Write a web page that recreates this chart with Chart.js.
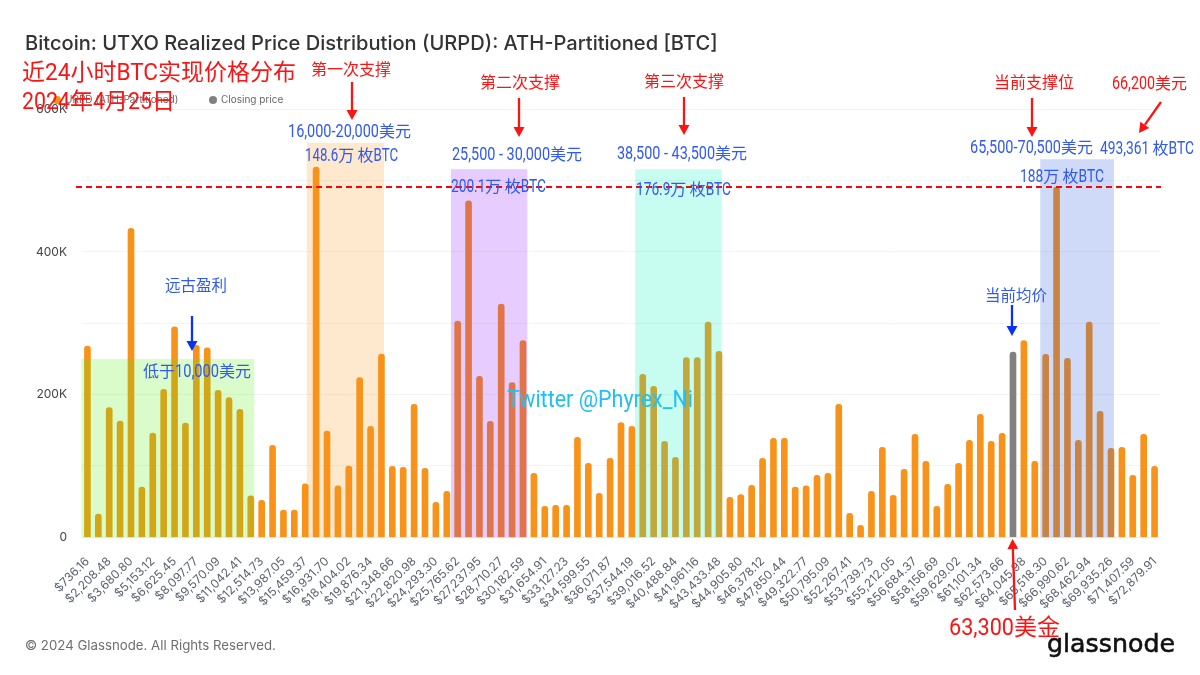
<!DOCTYPE html>
<html>
<head>
<meta charset="utf-8">
<script src="https://cdn.jsdelivr.net/npm/chart.js@4"></script>
<style>
    html, body { margin: 0; padding: 0; background: #fff; }
    canvas { display: block; }
</style>
</head>
<body>
<canvas id="urpdChart" width="1200" height="675"></canvas>
<script>
const tickLabels = [
    '$736.16', '$2,208.48', '$3,680.80', '$5,153.12', '$6,625.45', '$8,097.77', '$9,570.09', '$11,042.41', '$12,514.73', '$13,987.05',
    '$15,459.37', '$16,931.70', '$18,404.02', '$19,876.34', '$21,348.66', '$22,820.98', '$24,293.30', '$25,765.62', '$27,237.95', '$28,710.27',
    '$30,182.59', '$31,654.91', '$33,127.23', '$34,599.55', '$36,071.87', '$37,544.19', '$39,016.52', '$40,488.84', '$41,961.16', '$43,433.48',
    '$44,905.80', '$46,378.12', '$47,850.44', '$49,322.77', '$50,795.09', '$52,267.41', '$53,739.73', '$55,212.05', '$56,684.37', '$58,156.69',
    '$59,629.02', '$61,101.34', '$62,573.66', '$64,045.98', '$65,518.30', '$66,990.62', '$68,462.94', '$69,935.26', '$71,407.59', '$72,879.91'
];

const urpdValues = [
    268000, 32700, 182000, 163000, 433000, 70500, 146000, 207500, 295000, 160000,
    269000, 265500, 206000, 196000, 179500, 58000, 52000, 129000, 38000, 38000,
    75000, 519000, 149000, 72000, 100000, 224000, 155500, 257000, 99500, 98000,
    186500, 96700, 49000, 64500, 303000, 471600, 225800, 162700, 327000, 217000,
    275700, 89800, 43400, 44800, 44800, 140000, 103700, 61700, 110800, 161000,
    155700, 228500, 211700, 134600, 112000, 252000, 252000, 301600, 260800, 56000,
    60000, 73000, 110800, 138800, 138800, 70500, 72000, 87000, 89800, 186500,
    33600, 16800, 64500, 126200, 58900, 95400, 144400, 106600, 43400, 74300,
    103700, 136000, 172500, 134600, 145800, 259500, 275700, 106600, 256600, 491000,
    251000, 136000, 301600, 176700, 124800, 126200, 87000, 144400, 99500
];

const closingIndex = 85;
const supportLevel = 491000;

const ORANGE = '#f7931a';
const GREY = '#808080';
const RED = '#fb1414';
const BLUE = '#3059f2';

// shaded zones, in bar index / value units
const zones = [
    { from: -0.56, to: 15.32, top: 250000, color: 'rgba(82, 241, 14, 0.22)' },
    { from: 20.14, to: 27.23, top: 553000, color: 'rgba(250, 150, 30, 0.22)' },
    { from: 33.39, to: 40.4, top: 516000, color: 'rgba(135, 5, 255, 0.2)' },
    { from: 50.3, to: 58.25, top: 516000, color: 'rgba(0, 246, 187, 0.22)' },
    { from: 87.5, to: 94.27, top: 530000, color: 'rgba(37, 82, 223, 0.22)' }
];

const notes = [
    { text: '近24小时BTC实现价格分布', left: 22, right: 296, y: 71, size: 23, color: RED },
    { text: '2024年4月25日', left: 22, right: 175, y: 100, size: 23, color: RED },
    { text: '第一次支撑', left: 311, right: 390, y: 69, size: 16, color: RED },
    { text: '第二次支撑', left: 480, right: 559, y: 82, size: 16, color: RED },
    { text: '第三次支撑', left: 644, right: 723, y: 81, size: 16, color: RED },
    { text: '当前支撑位', left: 994, right: 1072, y: 82, size: 16, color: RED },
    { text: '66,200美元', left: 1112, right: 1187, y: 83, size: 16, color: RED },
    { text: '16,000-20,000美元', left: 288, right: 411, y: 131, size: 16, color: BLUE },
    { text: '148.6万 枚BTC', left: 305, right: 398, y: 155, size: 16, color: BLUE },
    { text: '25,500 - 30,000美元', left: 452, right: 582, y: 154, size: 16, color: BLUE },
    { text: '200.1万 枚BTC', left: 451, right: 546, y: 186, size: 16, color: BLUE },
    { text: '38,500 - 43,500美元', left: 617, right: 747, y: 153, size: 16, color: BLUE },
    { text: '176.9万 枚BTC', left: 636, right: 731, y: 189, size: 16, color: BLUE },
    { text: '65,500-70,500美元', left: 970, right: 1093, y: 147, size: 16, color: BLUE },
    { text: '493,361 枚BTC', left: 1100, right: 1194, y: 148, size: 16, color: BLUE },
    { text: '188万 枚BTC', left: 1020, right: 1104, y: 176, size: 16, color: BLUE },
    { text: '远古盈利', left: 165, right: 227, y: 285, size: 15.5, color: BLUE },
    { text: '低于10,000美元', left: 143, right: 251, y: 371, size: 16, color: BLUE },
    { text: '当前均价', left: 985, right: 1048, y: 295, size: 15.5, color: BLUE },
    { text: 'Twitter @Phyrex_Ni', left: 507, right: 693, y: 398, size: 23, color: '#1fc0f5' },
    { text: '63,300美金', left: 949, right: 1060, y: 626, size: 23, color: RED }
];

const arrows = [
    { x1: 352, y1: 82, x2: 352, y2: 120, color: RED },
    { x1: 519, y1: 98, x2: 519, y2: 137, color: RED },
    { x1: 684, y1: 97, x2: 684, y2: 135, color: RED },
    { x1: 1032, y1: 98, x2: 1032, y2: 137, color: RED },
    { x1: 1161, y1: 102, x2: 1139, y2: 133, color: RED },
    { x1: 1015, y1: 610, x2: 1012.5, y2: 539, color: RED },
    { x1: 192, y1: 316, x2: 192, y2: 351, color: '#0a32f5' },
    { x1: 1012, y1: 305, x2: 1012, y2: 336, color: '#0a32f5' }
];

function drawArrow(ctx, a) {
    const angle = Math.atan2(a.y2 - a.y1, a.x2 - a.x1);
    const headLen = 10;
    const headHalf = 5.5;
    const bx = a.x2 - headLen * Math.cos(angle);
    const by = a.y2 - headLen * Math.sin(angle);
    ctx.strokeStyle = a.color;
    ctx.fillStyle = a.color;
    ctx.lineWidth = 2.3;
    ctx.beginPath();
    ctx.moveTo(a.x1, a.y1);
    ctx.lineTo(bx, by);
    ctx.stroke();
    ctx.beginPath();
    ctx.moveTo(a.x2, a.y2);
    ctx.lineTo(bx - headHalf * Math.sin(angle), by + headHalf * Math.cos(angle));
    ctx.lineTo(bx + headHalf * Math.sin(angle), by - headHalf * Math.cos(angle));
    ctx.closePath();
    ctx.fill();
}

// the pasted notes use a narrow latin face, so latin runs get squeezed to fill the width
function drawNote(ctx, n) {
    const latinFont = (n.size + 1.5) + 'px Roboto';
    const cjkFont = n.size + 'px "Noto Sans CJK SC"';
    const baseline = n.y + n.size * 0.4;
    const runs = n.text.match(/[\u4e00-\u9fff]+|[^\u4e00-\u9fff]+/g).map(text => {
        const isCjk = /[\u4e00-\u9fff]/.test(text);
        ctx.font = isCjk ? cjkFont : latinFont;
        return { text, isCjk, width: ctx.measureText(text).width };
    });
    const cjkWidth = runs.filter(r => r.isCjk).reduce((sum, r) => sum + r.width, 0);
    const latinWidth = runs.filter(r => !r.isCjk).reduce((sum, r) => sum + r.width, 0);
    const squeeze = latinWidth ? (n.right - n.left - cjkWidth) / latinWidth : 1;
    let x = n.left;
    ctx.fillStyle = n.color;
    runs.forEach(r => {
        ctx.font = r.isCjk ? cjkFont : latinFont;
        const w = r.isCjk ? r.width : r.width * squeeze;
        ctx.fillText(r.text, x, baseline, w);
        x += w;
    });
}

function drawLegend(ctx) {
    const items = [
        { text: 'URPD (ATH-Partitioned)', x: 57, color: ORANGE },
        { text: 'Closing price', x: 213, color: GREY }
    ];
    ctx.font = '10px Inter';
    ctx.textAlign = 'left';
    ctx.textBaseline = 'middle';
    items.forEach(item => {
        ctx.fillStyle = item.color;
        ctx.beginPath();
        ctx.arc(item.x, 100, 4, 0, Math.PI * 2);
        ctx.fill();
        ctx.fillStyle = '#666';
        ctx.fillText(item.text, item.x + 8, 100);
    });
}

const overlayPlugin = {
    id: 'overlay',
    afterDraw(chart) {
        const { ctx, scales } = chart;
        const x = scales.x;
        const y = scales.y;
        ctx.save();
        drawLegend(ctx);

        zones.forEach(z => {
            const left = x.getPixelForValue(z.from);
            const right = x.getPixelForValue(z.to);
            const top = y.getPixelForValue(z.top);
            ctx.fillStyle = z.color;
            ctx.fillRect(left, top, right - left, y.getPixelForValue(0) - top);
        });

        ctx.strokeStyle = '#f5060f';
        ctx.lineWidth = 2;
        ctx.setLineDash([6, 4]);
        ctx.beginPath();
        ctx.moveTo(76, y.getPixelForValue(supportLevel));
        ctx.lineTo(1161, y.getPixelForValue(supportLevel));
        ctx.stroke();
        ctx.setLineDash([]);

        arrows.forEach(a => drawArrow(ctx, a));

        ctx.textAlign = 'left';
        ctx.textBaseline = 'alphabetic';
        notes.forEach(n => drawNote(ctx, n));

        ctx.textBaseline = 'middle';
        ctx.font = '13.25px Inter';
        ctx.fillStyle = '#6e6e6e';
        ctx.fillText('© 2024 Glassnode. All Rights Reserved.', 25, 646);

        ctx.textBaseline = 'alphabetic';
        ctx.font = '25.3px "DejaVu Sans"';
        ctx.fillStyle = '#111';
        ctx.strokeStyle = '#111';
        ctx.lineWidth = 0.6;
        ctx.fillText('glassnode', 1047, 652, 128);
        ctx.strokeText('glassnode', 1047, 652, 128);
        ctx.restore();
    }
};

new Chart(document.getElementById('urpdChart').getContext('2d'), {
    type: 'bar',
    data: {
        labels: urpdValues.map((v, i) => (i % 2 === 0 ? tickLabels[i / 2] : '')),
        datasets: [{
            label: 'URPD (ATH-Partitioned)',
            data: urpdValues,
            backgroundColor: urpdValues.map((v, i) => (i === closingIndex ? GREY : ORANGE)),
            barThickness: 6,
            borderRadius: { topLeft: 3, topRight: 3 },
            borderSkipped: 'bottom'
        }]
    },
    options: {
        responsive: false,
        animation: false,
        devicePixelRatio: 1,
        layout: { padding: { left: 25, right: 40, top: 0, bottom: 0 } },
        plugins: {
            legend: { display: false },
            tooltip: { enabled: false },
            title: {
                display: true,
                text: 'Bitcoin: UTXO Realized Price Distribution (URPD): ATH-Partitioned [BTC]',
                align: 'start',
                color: '#333',
                font: { family: 'Inter', size: 20.1, weight: '500' },
                padding: { top: 32, bottom: 53.2 }
            }
        },
        scales: {
            x: {
                grid: { display: false },
                border: { color: '#ececec' },
                afterFit(scale) { scale.height = 137.7; },
                ticks: {
                    autoSkip: false,
                    minRotation: 45,
                    maxRotation: 45,
                    padding: 9,
                    color: '#5b6270',
                    font: { family: 'Inter', size: 12 }
                }
            },
            y: {
                min: 0,
                max: 600000,
                afterFit(scale) { scale.width = 57; },
                border: { display: false },
                grid: { color: '#f3f3f3', drawTicks: false },
                ticks: {
                    stepSize: 100000,
                    padding: 15,
                    color: '#444',
                    font: { family: 'Inter', size: 12 },
                    callback: v => (v % 200000 === 0 ? (v === 0 ? '0' : v / 1000 + 'K') : '')
                }
            }
        }
    },
    plugins: [overlayPlugin]
});
</script>
</body>
</html>
